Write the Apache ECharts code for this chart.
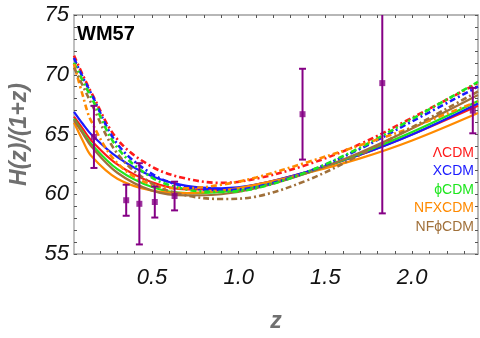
<!DOCTYPE html>
<html>
<head>
<meta charset="utf-8">
<script src="https://cdn.jsdelivr.net/npm/echarts@6/dist/echarts.min.js"></script>
<style>
  html, body { margin: 0; padding: 0; background: #fff; }
  #chart { width: 480px; height: 338px; }
</style>
</head>
<body>
<div id="chart"></div>
<script>
// redshift grid the curves were read at
const zGrid = [0.05, 0.1, 0.15, 0.3, 0.5, 0.7, 0.9, 1.1, 1.4, 1.7, 2.0, 2.38];

// dot-dashed model curves
const lcdmDash   = [71.6, 70.0, 68.5, 64.6, 62.3, 61.3, 60.95, 61.3, 62.5, 64.2, 66.4, 69.3];
const xcdmDash   = [71.4, 69.8, 68.4, 64.2, 61.7, 60.6, 60.35, 60.6, 61.9, 63.8, 66.1, 69.0];
const phiDash    = [71.0, 69.5, 68.1, 63.9, 61.4, 60.4, 60.2, 60.5, 61.9, 63.9, 66.3, 69.4];
const nfxDash    = [70.9, 68.3, 66.1, 62.6, 60.8, 60.5, 60.8, 61.4, 62.7, 64.1, 65.6, 67.8];
const nfphiDash  = [70.6, 69.1, 67.6, 63.4, 60.9, 59.9, 59.6, 59.8, 61.2, 63.3, 65.6, 68.6];

// solid model curves
const lcdmSolid  = [66.5, 65.5, 64.5, 62.5, 61.0, 60.4, 60.4, 60.8, 61.9, 63.3, 65.0, 67.4];
const xcdmSolid  = [66.9, 65.9, 65.0, 63.1, 61.5, 60.7, 60.5, 60.8, 61.9, 63.3, 65.0, 67.6];
const phiSolid   = [66.3, 65.2, 64.2, 62.1, 60.6, 60.1, 60.2, 60.6, 61.8, 63.4, 65.2, 67.8];
const nfxSolid   = [66.0, 64.5, 63.2, 61.3, 60.3, 60.1, 60.3, 60.8, 61.8, 63.0, 64.5, 66.8];
const nfphiSolid = [66.2, 65.1, 64.0, 61.8, 60.3, 59.9, 60.0, 60.5, 61.8, 63.5, 65.5, 68.3];

// measurements
const obsZ   = [0.165, 0.351, 0.427, 0.516, 0.63, 1.368, 1.828, 2.35];
const obsH   = [64.8, 59.5, 59.2, 59.35, 59.85, 66.7, 69.3, 67.0];
const obsErr = [2.6, 1.3, 3.4, 1.3, 1.2, 3.8, 10.9, 1.9];

// ticks
const xLabels = [0.5, 1.0, 1.5, 2.0];
const xTicks = [0.1, 0.2, 0.3, 0.4, 0.5, 0.6, 0.7, 0.8, 0.9, 1.0, 1.1, 1.2, 1.3, 1.4, 1.5,
                1.6, 1.7, 1.8, 1.9, 2.0, 2.1, 2.2, 2.3];

const legendNames = ['ΛCDM', 'XCDM', 'ϕCDM', 'NFXCDM', 'NFϕCDM'];
const colors = ['#ff1a1a', '#1a1aff', '#1ee61e', '#ff8a00', '#a0703a'];
const purple = '#850085';

const pairs = vals => zGrid.map((z, i) => [z, vals[i]]);

function curve(vals, color, dashed) {
    return {
        type: 'line',
        data: pairs(vals),
        smooth: 0.35,
        symbol: 'none',
        silent: true,
        lineStyle: {
            color: color,
            width: dashed ? 2.6 : 2.2,
            type: dashed ? [6, 3, 2, 3] : 'solid'
        },
        z: dashed ? 3 : 2
    };
}

const solids = [lcdmSolid, xcdmSolid, phiSolid, nfxSolid, nfphiSolid];
const dashes = [lcdmDash, xcdmDash, phiDash, nfxDash, nfphiDash];

const series = [];
solids.forEach((s, i) => series.push(curve(s, colors[i], false)));
dashes.forEach((s, i) => series.push(curve(s, colors[i], true)));

// error bars
series.push({
    type: 'custom',
    silent: true,
    z: 5,
    data: obsZ.map((z, i) => [z, obsH[i] - obsErr[i], obsH[i] + obsErr[i]]),
    renderItem: function (params, api) {
        const lo = api.coord([api.value(0), api.value(1)]);
        const hi = api.coord([api.value(0), api.value(2)]);
        const cap = 3.5;
        const st = { stroke: purple, lineWidth: 2 };
        return {
            type: 'group',
            children: [
                { type: 'line', shape: { x1: lo[0], y1: lo[1], x2: hi[0], y2: hi[1] }, style: st },
                { type: 'line', shape: { x1: lo[0] - cap, y1: lo[1], x2: lo[0] + cap, y2: lo[1] }, style: st },
                { type: 'line', shape: { x1: hi[0] - cap, y1: hi[1], x2: hi[0] + cap, y2: hi[1] }, style: st }
            ]
        };
    },
    clip: true
});
series.push({
    type: 'scatter',
    silent: true,
    z: 6,
    symbol: 'rect',
    symbolSize: 6,
    itemStyle: { color: purple },
    data: obsZ.map((z, i) => [z, obsH[i]])
});

const axisGray = '#a0a0a0';
const tickFont = { color: '#111', fontStyle: 'italic', fontSize: 22, fontFamily: 'Liberation Sans' };

const option = {
    animation: false,
    grid: { left: 68, right: 2, top: 15, bottom: 71 },
    xAxis: [
        {
            type: 'value', min: 0.05, max: 2.38, position: 'bottom',
            name: 'z', nameLocation: 'middle', nameGap: 56,
            nameTextStyle: { color: '#707070', fontStyle: 'italic', fontWeight: 'bold', fontSize: 23, fontFamily: 'Liberation Sans' },
            axisLine: { lineStyle: { color: axisGray, width: 1.5 } },
            axisTick: { inside: true, length: 3, customValues: xTicks, lineStyle: { color: '#555' } },
            axisLabel: Object.assign({ customValues: xLabels, margin: 13, formatter: v => v.toFixed(1) }, tickFont),
            splitLine: { show: false }
        },
        {
            type: 'value', min: 0.05, max: 2.38, position: 'top',
            axisLine: { lineStyle: { color: axisGray, width: 1.5 } },
            axisTick: { inside: true, length: 3, customValues: xTicks, lineStyle: { color: '#555' } },
            axisLabel: { show: false },
            splitLine: { show: false }
        }
    ],
    yAxis: [
        {
            type: 'value', min: 55, max: 75, interval: 5, position: 'left',
            name: 'H(z)/(1+z)', nameLocation: 'middle', nameGap: 43, nameRotate: 90,
            nameTextStyle: { color: '#707070', fontStyle: 'italic', fontWeight: 'bold', fontSize: 23, fontFamily: 'Liberation Sans' },
            axisLine: { show: true, lineStyle: { color: '#c0c0c0', width: 2 } },
            axisTick: { show: true, inside: true, length: 3, lineStyle: { color: '#555' } },
            minorTick: { show: true, splitNumber: 5, length: 3, lineStyle: { color: '#555' } },
            axisLabel: Object.assign({ margin: 5 }, tickFont),
            splitLine: { show: false }
        },
        {
            type: 'value', min: 55, max: 75, interval: 5, position: 'right',
            axisLine: { show: true, lineStyle: { color: axisGray, width: 1.5 } },
            axisTick: { show: true, inside: true, length: 3, lineStyle: { color: '#555' } },
            minorTick: { show: true, splitNumber: 5, length: 3, lineStyle: { color: '#555' } },
            axisLabel: { show: false },
            splitLine: { show: false }
        }
    ],
    graphic: [
        {
            type: 'text', left: 77, top: 24,
            style: { text: 'WM57', fill: '#000', font: 'bold 20px "Liberation Sans"' }
        }
    ].concat(legendNames.map((n, i) => ({
        type: 'text', right: 6, top: 146 + i * 18.5,
        style: { text: n, fill: colors[i], font: '14px "Liberation Sans"', textAlign: 'right' }
    }))),
    series: series
};

const chart = echarts.init(document.getElementById('chart'));
chart.setOption(option);
</script>
</body>
</html>
